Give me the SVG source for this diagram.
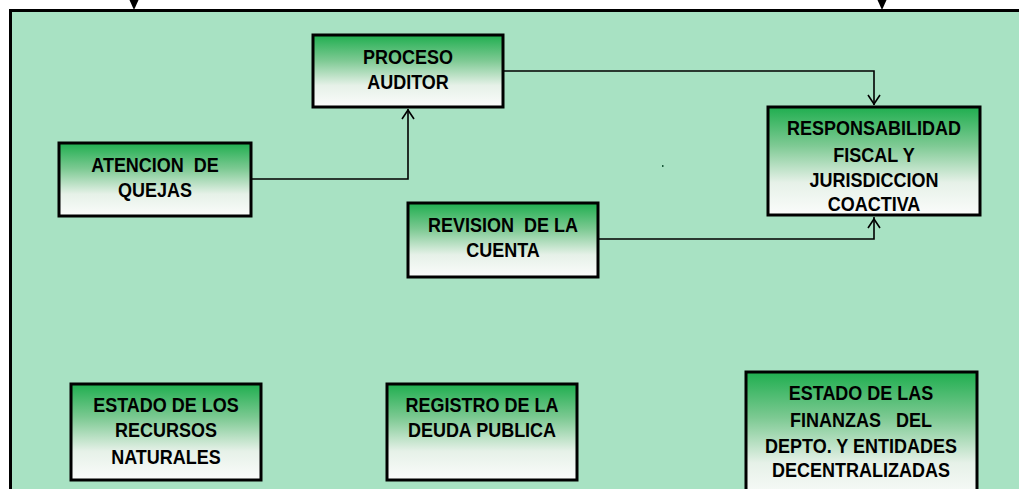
<svg xmlns="http://www.w3.org/2000/svg" width="1019" height="489" viewBox="0 0 1019 489">
<style>
.node{stroke:#000;stroke-width:3;fill:url(#g)}
.t{font-family:"Liberation Sans",Arial,sans-serif;font-weight:bold;font-size:18px;fill:#000;text-anchor:middle}
.c{fill:none;stroke:#000;stroke-width:1.6}
.ah{fill:none;stroke:#000;stroke-width:1.6}
</style>
<defs>
<linearGradient id="g" x1="0" y1="0" x2="0" y2="1">
<stop offset="0" stop-color="#1fae4f"/>
<stop offset="0.35" stop-color="#7cc992"/>
<stop offset="0.7" stop-color="#e6f1e8"/>
<stop offset="1" stop-color="#fbfcfb"/>
</linearGradient>
</defs>
<rect x="0" y="0" width="1019" height="489" fill="#ffffff"/>
<rect x="10.5" y="10.5" width="1020" height="490" fill="#a8e2c3" stroke="#000" stroke-width="3"/>
<rect x="662" y="165" width="1.5" height="2" fill="#1a5a3a"/>
<g id="connectors">
<path class="c" d="M134,0 V4"/>
<polygon points="129.5,0 138.5,0 134,10" fill="#000"/>
<path class="c" d="M882,0 V4"/>
<polygon points="877.5,0 886.5,0 882,10" fill="#000"/>
<path class="c" d="M251,179 H408 V109"/>
<path class="c" d="M503,71 H874 V105"/>
<path class="c" d="M598,239 H874 V217"/>
<path class="ah" d="M402,119 L408,110 L414,119"/>
<path class="ah" d="M868,95 L874,104 L880,95"/>
<path class="ah" d="M868,228 L874,219 L880,228"/>
</g>
<g id="proceso">
<rect class="node" x="313" y="35" width="190" height="72"/>
<text class="t" transform="translate(408,64) scale(1,1.15)">PROCESO</text>
<text class="t" transform="translate(408,89) scale(1,1.15)">AUDITOR</text>
</g>
<g id="atencion">
<rect class="node" x="59" y="143" width="192" height="73"/>
<text class="t" xml:space="preserve" transform="translate(155,172) scale(1,1.15)">ATENCION  DE</text>
<text class="t" transform="translate(155,197) scale(1,1.15)">QUEJAS</text>
</g>
<g id="revision">
<rect class="node" x="408" y="203" width="190" height="74"/>
<text class="t" xml:space="preserve" transform="translate(503,232) scale(1,1.15)">REVISION  DE LA</text>
<text class="t" transform="translate(503,257) scale(1,1.15)">CUENTA</text>
</g>
<g id="responsabilidad">
<rect class="node" x="768" y="107" width="212" height="108"/>
<text class="t" transform="translate(874,135) scale(1,1.15)">RESPONSABILIDAD</text>
<text class="t" transform="translate(874,162) scale(1,1.15)">FISCAL Y</text>
<text class="t" transform="translate(874,187) scale(1,1.15)">JURISDICCION</text>
<text class="t" transform="translate(874,211) scale(1,1.15)">COACTIVA</text>
</g>
<g id="recursos">
<rect class="node" x="71" y="384" width="190" height="96"/>
<text class="t" transform="translate(166,412) scale(1,1.15)">ESTADO DE LOS</text>
<text class="t" transform="translate(166,437) scale(1,1.15)">RECURSOS</text>
<text class="t" transform="translate(166,464) scale(1,1.15)">NATURALES</text>
</g>
<g id="deuda">
<rect class="node" x="387" y="384" width="190" height="96"/>
<text class="t" transform="translate(482,412) scale(1,1.15)">REGISTRO DE LA</text>
<text class="t" xml:space="preserve" transform="translate(482,437) scale(1,1.15)">DEUDA PUBLICA</text>
</g>
<g id="finanzas">
<rect class="node" x="746" y="372" width="231" height="130"/>
<text class="t" transform="translate(861,400) scale(1,1.15)">ESTADO DE LAS</text>
<text class="t" xml:space="preserve" transform="translate(861,427) scale(1,1.15)">FINANZAS   DEL</text>
<text class="t" transform="translate(861,453) scale(1,1.15)">DEPTO. Y ENTIDADES</text>
<text class="t" transform="translate(861,477) scale(1,1.15)">DECENTRALIZADAS</text>
</g>
</svg>
